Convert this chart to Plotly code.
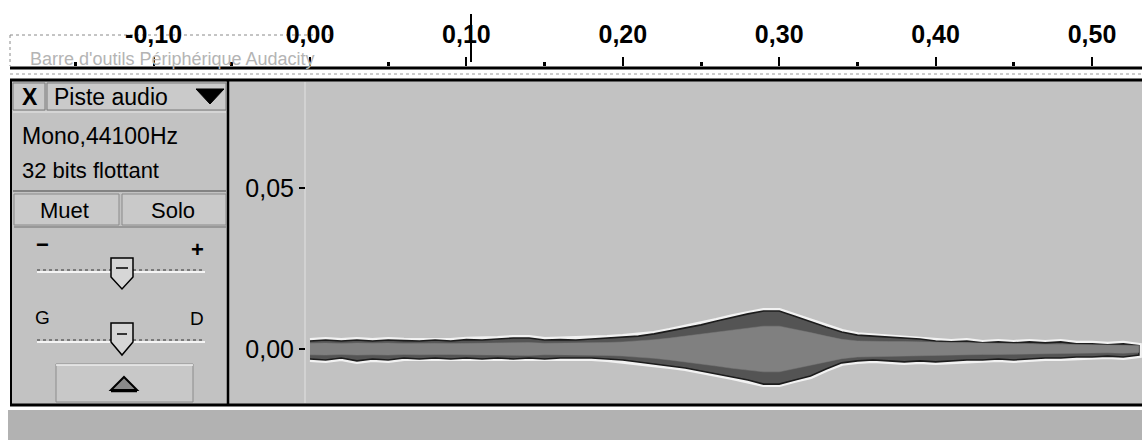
import plotly.graph_objects as go

W, H = 1142, 440

# ---------------- data ----------------
times = [0.00, 0.01, 0.02, 0.03, 0.04, 0.05, 0.06, 0.07, 0.08, 0.09,
         0.10, 0.11, 0.12, 0.13, 0.14, 0.15, 0.16, 0.17, 0.18, 0.19,
         0.20, 0.21, 0.22, 0.23, 0.24, 0.25, 0.26, 0.27, 0.28, 0.29,
         0.30, 0.31, 0.32, 0.33, 0.34, 0.35, 0.36, 0.37, 0.38, 0.39,
         0.40, 0.41, 0.42, 0.43, 0.44, 0.45, 0.46, 0.47, 0.48, 0.49,
         0.50, 0.51, 0.52, 0.53]
peak_top = [0.0025, 0.0028, 0.0025, 0.0028, 0.0025, 0.0028, 0.0026, 0.0025, 0.0028, 0.0025,
            0.0029, 0.0028, 0.0031, 0.0034, 0.0034, 0.0028, 0.0029, 0.0028, 0.0031, 0.0034,
            0.0037, 0.0040, 0.0047, 0.0056, 0.0065, 0.0075, 0.0087, 0.0099, 0.0109, 0.0118,
            0.0118, 0.0102, 0.0084, 0.0068, 0.0053, 0.0043, 0.0040, 0.0037, 0.0034, 0.0031,
            0.0025, 0.0022, 0.0025, 0.0019, 0.0022, 0.0019, 0.0022, 0.0019, 0.0022, 0.0016,
            0.0016, 0.0013, 0.0016, 0.0010]
peak_bottom = [0.0031, 0.0034, 0.0028, 0.0037, 0.0031, 0.0034, 0.0028, 0.0031, 0.0028, 0.0031,
               0.0028, 0.0031, 0.0028, 0.0031, 0.0028, 0.0031, 0.0028, 0.0028, 0.0028, 0.0031,
               0.0034, 0.0040, 0.0047, 0.0053, 0.0059, 0.0068, 0.0078, 0.0087, 0.0096, 0.0109,
               0.0109, 0.0096, 0.0084, 0.0062, 0.0043, 0.0037, 0.0034, 0.0037, 0.0040, 0.0037,
               0.0040, 0.0037, 0.0034, 0.0034, 0.0031, 0.0034, 0.0031, 0.0028, 0.0028, 0.0025,
               0.0025, 0.0022, 0.0025, 0.0019]
rms_level = [0.0018, 0.0019, 0.0017, 0.0019, 0.0018, 0.0019, 0.0017, 0.0018, 0.0018, 0.0017,
             0.0018, 0.0019, 0.0019, 0.0020, 0.0020, 0.0018, 0.0018, 0.0018, 0.0019, 0.0020,
             0.0022, 0.0025, 0.0029, 0.0034, 0.0040, 0.0046, 0.0053, 0.0060, 0.0066, 0.0071,
             0.0071, 0.0062, 0.0051, 0.0040, 0.0030, 0.0025, 0.0023, 0.0023, 0.0023, 0.0022,
             0.0021, 0.0019, 0.0018, 0.0017, 0.0017, 0.0017, 0.0016, 0.0015, 0.0015, 0.0014,
             0.0013, 0.0012, 0.0013, 0.0011]

ruler_ticks = [-0.10, 0.00, 0.10, 0.20, 0.30, 0.40, 0.50]
ruler_labels = ["-0,10", "0,00", "0,10", "0,20", "0,30", "0,40", "0,50"]
ruler_minor = [-0.15, -0.05, 0.05, 0.15, 0.25, 0.35, 0.45]
amp_ticks = [0.00, 0.05]
amp_labels = ["0,00", "0,05"]

track_name = "Piste audio"
track_info = ["Mono,44100Hz", "32 bits flottant"]
toolbar_ghost = "Barre d'outils Périphérique Audacity"

FONT = "Liberation Sans, Arial, sans-serif"

# ---------------- helpers (pixel -> paper) ----------------
def px(x):
    return x / W

def py(y):
    return 1 - y / H

shapes = []
annots = []

def rect(x0, y0, x1, y1, fill, lc=None, lw=0):
    shapes.append(dict(type="rect", xref="paper", yref="paper",
                       x0=px(x0), x1=px(x1), y0=py(y1), y1=py(y0),
                       fillcolor=fill, layer="below",
                       line=dict(color=lc or fill, width=lw)))

def hline(x0, x1, y, color="black", width=1, dash="solid"):
    shapes.append(dict(type="line", xref="paper", yref="paper",
                       x0=px(x0), x1=px(x1), y0=py(y), y1=py(y), layer="below",
                       line=dict(color=color, width=width, dash=dash)))

def vline(x, y0, y1, color="black", width=1, dash="solid", layer="below"):
    shapes.append(dict(type="line", xref="paper", yref="paper",
                       x0=px(x), x1=px(x), y0=py(y0), y1=py(y1), layer=layer,
                       line=dict(color=color, width=width, dash=dash)))

def poly(pts, fill, lc="black", lw=1):
    d = "M " + " L ".join(f"{px(a):.5f},{py(b):.5f}" for a, b in pts) + " Z"
    shapes.append(dict(type="path", xref="paper", yref="paper", path=d,
                       fillcolor=fill, layer="below", line=dict(color=lc, width=lw)))

def text(x, y, s, size=20, color="black", anchor="left", weight="normal"):
    annots.append(dict(xref="paper", yref="paper", x=px(x), y=py(y), text=s,
                       showarrow=False, xanchor=anchor, yanchor="middle",
                       font=dict(family=FONT, size=size, color=color, weight=weight)))

# ---------------- background & frame ----------------
rect(11, 80, W, 405, "#c2c2c2")           # track area
rect(8, 410, W, H, "#b2b2b2")             # empty area below track
hline(10, W, 68, "black", 3)
hline(10, W, 74, "#9a9a9a", 1, "dot")
hline(10, W, 80, "black", 3)
hline(10, W, 405, "black", 3)
vline(11, 80, 405, "black", 2)
vline(228, 80, 405, "black", 2.5)
vline(305, 82, 403, "#e2e2e2", 1)

# ghost toolbar outline & text
hline(10, 330, 35, "#8a8a8a", 1, "dot")
vline(10, 35, 66, "#8a8a8a", 1, "dot")
text(28, 59, toolbar_ghost, size=18, color="#b4b4b4")

# edit cursor mark on the ruler
vline(471, 14, 62, "black", 2, layer="above")

# ---------------- track control panel ----------------
rect(13, 83, 45, 110, "#cacaca", "#7a7a7a", 1)
text(30, 97, "X", size=23, anchor="center", weight="bold")
rect(47, 83, 226, 110, "#cacaca", "#7a7a7a", 1)
text(52, 97, track_name, size=23)
poly([(196, 89), (224, 89), (210, 104)], "black", "black", 1)
hline(13, 226, 112, "#e8e8e8", 1)

text(20, 136, track_info[0], size=23)
text(20, 170, track_info[1], size=22)
hline(13, 226, 191, "#6e6e6e", 1.5)

rect(14, 194, 119, 225, "#c9c9c9", "#8a8a8a", 1)
rect(122, 194, 226, 225, "#c9c9c9", "#8a8a8a", 1)
hline(14, 226, 227, "#8a8a8a", 1.5)
text(64, 210, "Muet", size=22, anchor="center")
text(173, 210, "Solo", size=22, anchor="center")

# gain slider
text(42, 245, "−", size=22, anchor="center", weight="bold")
text(197, 249, "+", size=22, anchor="center", weight="bold")
hline(37, 205, 272, "#f4f4f4", 2)
hline(37, 205, 270, "#7a7a7a", 2, "dot")
poly([(111, 258), (133, 258), (133, 277), (122, 289), (111, 277)], "#d6d6d6", "black", 1.5)
hline(116, 128, 268, "black", 1.5)

# pan slider
text(43, 317, "G", size=19, anchor="center")
text(197, 318, "D", size=19, anchor="center")
hline(37, 205, 342, "#f4f4f4", 2)
hline(37, 205, 340, "#7a7a7a", 2, "dot")
poly([(111, 323), (133, 323), (133, 342), (122, 355), (111, 342)], "#d6d6d6", "black", 1.5)
hline(117, 127, 334, "black", 1.5)

# collapse button
rect(56, 364, 193, 402, "#c8c8c8", "#8c8c8c", 1)
hline(56, 193, 365, "#eeeeee", 1.5)
poly([(111, 390), (124, 377), (137, 390)], "#8a8a8a", "black", 2)
hline(111, 137, 391, "black", 2.5)

# ---------------- waveform ----------------
x_poly = times + times[::-1]
peak_poly = peak_top + [-v for v in peak_bottom[::-1]]
rms_poly = rms_level + [-v for v in rms_level[::-1]]

fig = go.Figure()
fig.add_trace(go.Scatter(x=x_poly, y=peak_poly, mode="lines", fill="toself",
                         fillcolor="#eeeeee", line=dict(color="#f2f2f2", width=6),
                         hoverinfo="skip"))
fig.add_trace(go.Scatter(x=x_poly, y=peak_poly, mode="lines", fill="toself",
                         fillcolor="#545454", line=dict(color="#1c1c1c", width=1.6),
                         hoverinfo="skip"))
fig.add_trace(go.Scatter(x=x_poly, y=rms_poly, mode="lines", fill="toself",
                         fillcolor="#808080", line=dict(color="#7a7a7a", width=0.5),
                         hoverinfo="skip"))

# axis ranges chosen so that the ruler / amplitude ticks land where they are in the picture
x_px_per_s = 1564.0
x_zero_px = 310.0
x_range = [-x_zero_px / x_px_per_s, (W - x_zero_px) / x_px_per_s]
y_px_per_unit = 3220.0
y_zero_px = 349.0
y_range = [-(H - y_zero_px) / y_px_per_unit, y_zero_px / y_px_per_unit]

fig.update_layout(
    width=W, height=H,
    margin=dict(l=0, r=0, t=0, b=0),
    paper_bgcolor="white",
    plot_bgcolor="rgba(0,0,0,0)",
    showlegend=False,
    shapes=shapes,
    annotations=annots,
    xaxis=dict(range=x_range, domain=[0, 1], anchor="free", position=py(66),
               side="top", tickmode="array", tickvals=ruler_ticks, ticktext=ruler_labels,
               ticks="outside", ticklen=9, tickwidth=2, tickcolor="black",
               ticklabelstandoff=4,
               tickfont=dict(family=FONT, size=25, color="black", weight="bold"),
               minor=dict(tickmode="array", tickvals=ruler_minor, ticks="outside",
                          ticklen=4, tickwidth=3, tickcolor="black"),
               showgrid=False, zeroline=False, showline=False, fixedrange=True),
    yaxis=dict(range=y_range, domain=[0, 1], anchor="free", position=px(305),
               side="left", tickmode="array", tickvals=amp_ticks, ticktext=amp_labels,
               ticks="outside", ticklen=6, tickwidth=2, tickcolor="black",
               tickfont=dict(family=FONT, size=25, color="black"),
               showgrid=False, zeroline=False, showline=False, fixedrange=True),
)

fig.write_html("out.html", config={"displayModeBar": False},
               post_script="document.body.style.margin='0';document.body.style.overflow='hidden';")
